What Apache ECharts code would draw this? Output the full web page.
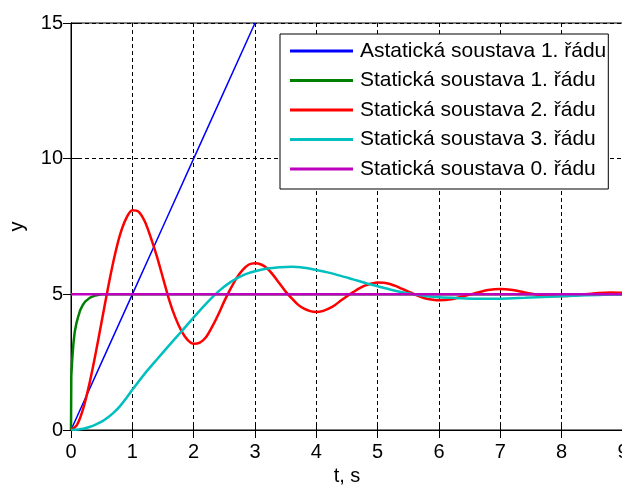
<!DOCTYPE html>
<html>
<head>
<meta charset="utf-8">
<script src="https://cdn.jsdelivr.net/npm/echarts@6/dist/echarts.min.js"></script>
<style>
  html, body { margin: 0; padding: 0; background: #fff; }
  #chart { width: 622px; height: 485px; }
</style>
</head>
<body>
<div id="chart"></div>
<script>
// legend names
const names = [
  "Astatická soustava 1. řádu",
  "Statická soustava 1. řádu",
  "Statická soustava 2. řádu",
  "Statická soustava 3. řádu",
  "Statická soustava 0. řádu"
];
const colors = ["#0000ff", "#008000", "#ff0000", "#00bfbf", "#bf00bf"];

// [t, y] points
const astatic1 = [[0, 0], [0.5, 2.5], [1, 5], [1.5, 7.5], [2, 10], [2.5, 12.5], [3, 15]];
const static1 = [[0, 0], [0.005, 2], [0.02, 2.6], [0.04, 3.2], [0.06, 3.6], [0.09, 3.95],
  [0.12, 4.2], [0.15, 4.42], [0.19, 4.6], [0.23, 4.73], [0.31, 4.88], [0.4, 4.96], [0.5, 5], [9, 5]];
const static2 = [[0, 0], [0.1, 0.2], [0.2, 0.8], [0.3, 1.7], [0.4, 2.8], [0.5, 4.0], [0.6, 5.2],
  [0.7, 6.3], [0.8, 7.2], [0.9, 7.8], [1.0, 8.1], [1.1, 8.05], [1.2, 7.7], [1.3, 7.1], [1.4, 6.4],
  [1.5, 5.6], [1.6, 4.8], [1.7, 4.15], [1.8, 3.65], [1.9, 3.32], [2.0, 3.18], [2.1, 3.22], [2.2, 3.42],
  [2.3, 3.8], [2.4, 4.25], [2.5, 4.75], [2.6, 5.2], [2.7, 5.6], [2.8, 5.9], [2.9, 6.1], [3.0, 6.15],
  [3.1, 6.1], [3.2, 5.95], [3.3, 5.7], [3.4, 5.4], [3.5, 5.1], [3.6, 4.85], [3.7, 4.62], [3.8, 4.47],
  [3.9, 4.38], [4.0, 4.35], [4.1, 4.38], [4.2, 4.47], [4.3, 4.6], [4.4, 4.77], [4.5, 4.93], [4.6, 5.08],
  [4.7, 5.22], [4.8, 5.33], [4.9, 5.4], [5.0, 5.44], [5.1, 5.43], [5.2, 5.38], [5.3, 5.3], [5.4, 5.2],
  [5.5, 5.1], [5.6, 5.0], [5.7, 4.91], [5.8, 4.84], [5.9, 4.8], [6.0, 4.78], [6.2, 4.82], [6.4, 4.93],
  [6.6, 5.05], [6.8, 5.16], [7.0, 5.2], [7.2, 5.16], [7.4, 5.07], [7.6, 4.99], [7.8, 4.95], [8.0, 4.94],
  [8.2, 4.96], [8.4, 5.0], [8.6, 5.05], [8.8, 5.07], [9.0, 5.06]];
const static3 = [[0, 0], [0.2, 0.05], [0.3, 0.11], [0.4, 0.2], [0.5, 0.31], [0.6, 0.46], [0.7, 0.65],
  [0.8, 0.88], [0.9, 1.17], [1.0, 1.48], [1.1, 1.78], [1.2, 2.07], [1.4, 2.6], [1.6, 3.12], [1.8, 3.63],
  [2.0, 4.15], [2.2, 4.65], [2.4, 5.1], [2.6, 5.45], [2.8, 5.7],
  [3.0, 5.85], [3.2, 5.95], [3.4, 6.0], [3.6, 6.02], [3.8, 5.98], [4.0, 5.9], [4.2, 5.8], [4.4, 5.68],
  [4.6, 5.55], [4.8, 5.42], [5.0, 5.3], [5.2, 5.18], [5.4, 5.08], [5.6, 5.0], [5.8, 4.93], [6.0, 4.89],
  [6.3, 4.86], [6.6, 4.84], [7.0, 4.84], [7.4, 4.87], [7.8, 4.91], [8.2, 4.95], [8.6, 4.98], [9, 5.0]];
const static0 = [[0, 5], [9, 5]];

const seriesData = [astatic1, static1, static2, static3, static0];
const widths = [1.5, 2.5, 2.5, 2.5, 2.5];

const font = "'Liberation Sans', Arial, sans-serif";
const chart = echarts.init(document.getElementById("chart"));

chart.setOption({
  animation: false,
  backgroundColor: "#fff",
  textStyle: { fontFamily: font },
  grid: {
    left: 71, right: -1, top: 23, bottom: 55,
    outerBoundsMode: "none",
    containLabel: false,
    show: true, borderColor: "#000", borderWidth: 1
  },
  legend: {
    orient: "vertical",
    left: 280, top: 34,
    padding: [6, 2, 9, 10],
    backgroundColor: "#fff",
    borderColor: "#000",
    borderWidth: 1,
    icon: "rect",
    itemWidth: 63,
    itemHeight: 3,
    itemGap: 7.5,
    textStyle: { fontSize: 21, color: "#000", fontFamily: font, lineHeight: 22, padding: [0, 0, 0, 2] },
    data: names
  },
  xAxis: [
    {
      type: "value", min: 0, max: 9, interval: 1,
      name: "t, s", nameLocation: "middle", nameGap: 32,
      nameTextStyle: { fontSize: 20, color: "#000" },
      axisLine: { lineStyle: { color: "#000" } },
      axisTick: { inside: true, length: 8, lineStyle: { color: "#000" } },
      axisLabel: { fontSize: 20, color: "#000", margin: 12 },
      splitLine: { show: true, lineStyle: { color: "#000", type: [4, 3], width: 1 } }
    },
    {
      type: "value", min: 0, max: 9, interval: 1, position: "top",
      axisLine: { lineStyle: { color: "#000" } },
      axisTick: { inside: true, length: 8, lineStyle: { color: "#000" } },
      axisLabel: { show: false },
      splitLine: { show: false }
    }
  ],
  yAxis: [
    {
      type: "value", min: 0, max: 15, interval: 5,
      name: "y", nameLocation: "middle", nameGap: 44, nameRotate: 90,
      nameTextStyle: { fontSize: 20, color: "#000" },
      axisLine: { show: true, lineStyle: { color: "#000" } },
      axisTick: { show: true, inside: true, length: 8, lineStyle: { color: "#000" } },
      axisLabel: { fontSize: 20, color: "#000", margin: 8 },
      splitLine: { show: true, lineStyle: { color: "#000", type: [4, 3], width: 1 } }
    },
    {
      type: "value", min: 0, max: 15, interval: 5, position: "right",
      axisLine: { show: true, lineStyle: { color: "#000" } },
      axisTick: { show: true, inside: true, length: 8, lineStyle: { color: "#000" } },
      axisLabel: { show: false },
      splitLine: { show: false }
    }
  ],
  series: names.map((n, i) => ({
    name: n,
    type: "line",
    xAxisIndex: 0,
    yAxisIndex: 0,
    data: seriesData[i],
    smooth: i === 2 || i === 3 ? 0.3 : false,
    symbol: "none",
    clip: true,
    color: colors[i],
    lineStyle: { color: colors[i], width: widths[i] },
    z: 2 + i
  }))
});
</script>
</body>
</html>
